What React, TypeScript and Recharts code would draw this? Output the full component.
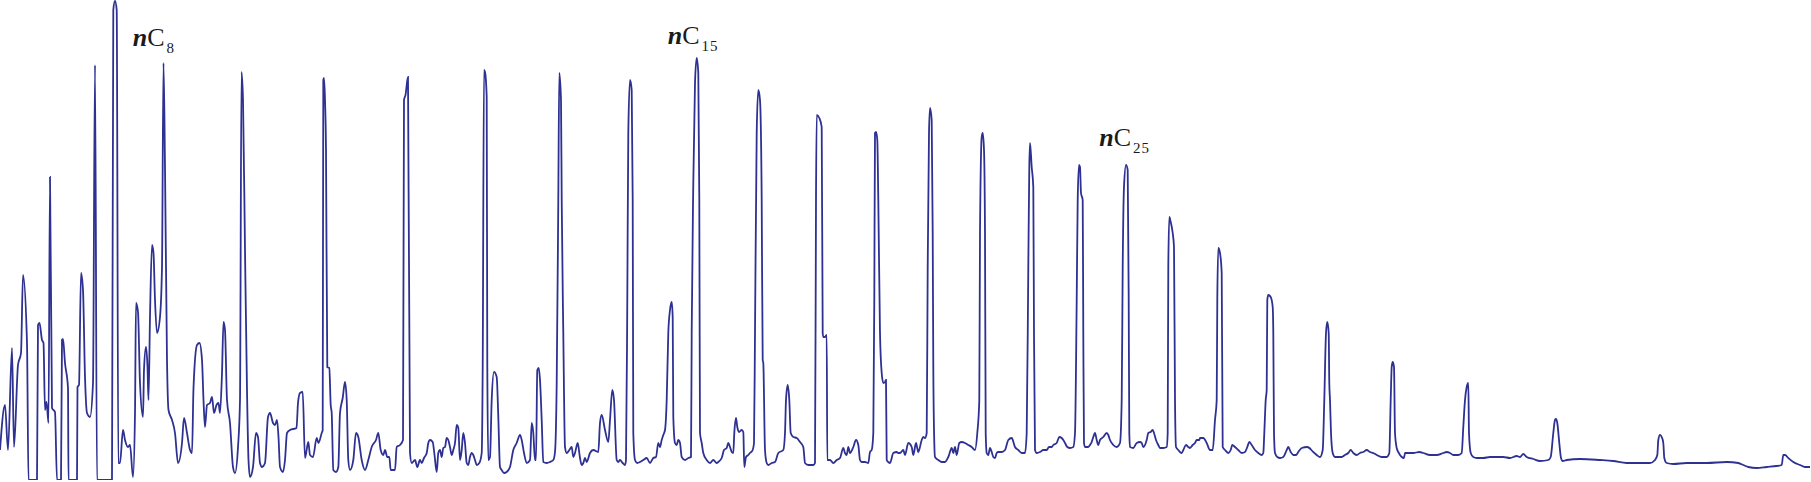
import React from "react";
import { LineChart, Line, XAxis, YAxis, ReferenceDot } from "recharts";

// Retention time (arbitrary units) and detector signal.
const lightEnd: [number, number][] = [
  [0, 30], [5, 75], [8, 30], [12, 132], [14, 33], [18, 115], [21, 127], [23, 205], [27, 137],
  [28.5, 0], [37, 0], [38, 155], [39.5, 157], [42, 140], [43.5, 137], [45, 70], [46.5, 78],
  [48.5, 57], [50, 303], [52, 72], [55, 68], [57, 0], [61, 0], [62, 140], [63, 141], [65, 117],
  [68, 92], [68.5, 0], [77, 0], [77.5, 93], [79, 95], [81, 207], [83, 190], [85, 103], [87, 67],
  [90, 63], [93, 97], [95, 415], [97, 0], [112, 0], [113.3, 470], [115, 479], [116.7, 470],
  [118.3, 17], [120, 17], [123, 50], [125, 40], [128, 33], [130, 35], [133, 3], [135, 67],
  [136, 177], [138, 168], [140, 97], [143, 63], [144, 110], [146, 133], [147.5, 113], [148.5, 80],
  [150, 163], [152, 235], [153.5, 227], [155, 180], [157, 147], [160, 163], [162, 213],
  [163.5, 417], [165, 313], [167, 120], [168.5, 70], [172, 60], [175, 47], [178, 17], [182, 37],
  [184, 62], [187, 47], [190, 30], [192, 27], [193.5, 92], [197, 135], [199.5, 137], [202, 120],
  [203.5, 80], [205, 53], [207, 75], [210, 77], [212, 83], [214, 67], [216.5, 75], [218.5, 77],
  [220, 67], [222, 107], [223.5, 158], [225, 150], [227, 80], [230, 57], [233, 13], [235, 7],
  [238, 33], [240, 80], [241.5, 408], [243, 380], [245, 230], [247, 90], [248.5, 20], [250, 3],
  [253, 13], [256, 47], [258, 43], [260, 17], [262, 13], [265, 17], [268, 63], [270, 67],
  [273, 57], [275, 55], [277, 60], [278.5, 43], [280, 13], [283, 8], [285, 20], [287, 47],
  [290, 50], [296.5, 52], [298, 77],
];

const c9toC13: [number, number][] = [
  [300, 87], [302.7, 88], [305, 22], [308.3, 38], [310, 25], [313, 23], [316.7, 42], [318.5, 37],
  [321.7, 47], [322.7, 50], [323.3, 400], [324, 402], [325, 380], [326, 330], [327.3, 113],
  [329.3, 112], [330.7, 75], [331.7, 67], [333.3, 10], [336, 8], [338.3, 13], [340, 67],
  [342.7, 82], [345, 98], [346.7, 80], [348.3, 20], [350, 10], [353.3, 20], [356, 47],
  [358.3, 43], [361.7, 20], [365, 10], [368.3, 20], [371.7, 33], [376, 40], [378.3, 47],
  [380.7, 30], [383.3, 25], [385, 30], [387.3, 23], [389.3, 23], [390.7, 10], [395, 10],
  [396.7, 33], [400, 35], [403, 40], [404, 380], [405.5, 385], [408, 403], [410, 27],
  [411.7, 17], [415, 20], [417.3, 13], [420, 20], [421.7, 17], [424, 22], [426.7, 27],
  [428.3, 37], [430, 40], [432.7, 38], [434.3, 27], [436.7, 8], [438.3, 27], [440, 30],
  [441.7, 23], [443.3, 32], [445, 33], [446.7, 42], [448.3, 40], [450, 33], [451.7, 25],
  [453.3, 30], [455, 37], [456.7, 55], [458.3, 52], [460, 20], [461.7, 30], [463.3, 47],
  [465, 37], [466.7, 17], [468.3, 15], [470, 23], [471.7, 27], [473.3, 25], [475, 20],
  [476.7, 15], [479.3, 17], [481.7, 27], [482.7, 113], [484, 410], [485, 408], [486.7, 383],
  [487.3, 113], [488.3, 20], [490, 23], [491.7, 80], [494, 108], [496.7, 103], [498.3, 63],
  [500, 13], [501.7, 10], [504, 7], [506.7, 8], [510, 13], [513.3, 30], [516.7, 37], [520, 45],
  [521.7, 40], [524, 27], [526.7, 17], [530, 20], [531.7, 57], [533.3, 47], [535, 20], [536, 20],
  [537.3, 110], [538.7, 112], [540, 100], [541.7, 60], [543.3, 18], [546.7, 17], [550, 18],
  [553.3, 20], [555, 28], [556.7, 97], [558.3, 280], [559.3, 407], [561, 380], [561.7, 280],
  [563.3, 147], [565, 33], [566.7, 27], [569.3, 30], [571.7, 33], [573.3, 23], [575, 27],
  [577.7, 37], [580, 22], [581.7, 15], [583.3, 17], [585, 22], [586.7, 18], [590, 27],
  [593.3, 30], [598.3, 28],
];

const c14toC19: [number, number][] = [
  [600, 57], [601.7, 65], [605, 50], [608.3, 38], [610, 60], [612.3, 90], [614, 80], [616.7, 20],
  [618.3, 18], [620, 20], [622.7, 17], [625, 15], [626, 20], [627.3, 180], [628.3, 347],
  [630, 400], [631.7, 390], [632.7, 280], [633.3, 47], [635, 20], [637.3, 17], [640, 18],
  [643.3, 20], [646.7, 22], [650, 17], [653.3, 22], [656, 23], [658.3, 37], [660, 33],
  [661.7, 40], [663.3, 45], [665, 50], [666.7, 80], [668.3, 147], [670, 170], [671.7, 178],
  [672.7, 163], [673.3, 63], [675, 37], [676.7, 35], [678.3, 40], [680, 37], [681.7, 23],
  [685, 20], [688.3, 22], [691, 23], [691.7, 147], [693.3, 297], [695, 397], [696.7, 422],
  [698.3, 407], [699.3, 280], [700, 47], [701.7, 37], [703.3, 27], [706.7, 20], [710, 17],
  [713.3, 20], [716.7, 17], [718.3, 18], [721.7, 22], [724, 30], [726.7, 32], [728.3, 37],
  [730, 33], [731.7, 28], [733.3, 27], [734.3, 47], [736, 62], [737.3, 53], [739, 48],
  [741.7, 50], [743.3, 48], [744.3, 13], [746, 23], [748.3, 25], [750, 27], [752.7, 30],
  [754, 37], [755, 147], [756.7, 347], [758.3, 390], [760, 380], [761.7, 280], [762.7, 120],
  [763.3, 117], [765, 30], [766.7, 17], [768.3, 15], [771.7, 17], [775, 18], [778.3, 27],
  [783.3, 30], [785, 47], [786, 80], [787.7, 95], [789.3, 80], [790.7, 47], [793.3, 43],
  [796.7, 42], [800, 38], [803.3, 33], [805, 17], [808.3, 15], [813.3, 15], [815, 17],
  [816, 280], [816.7, 365], [819.3, 362], [821.7, 353], [822.7, 147], [823.3, 143], [825, 143],
  [826.7, 145], [827.3, 20], [830, 20], [833.3, 17], [836.7, 20], [840, 22], [843.3, 32],
  [845, 27], [846.7, 25], [848.3, 33], [850, 27], [853.3, 33], [856, 40], [858.3, 35], [860, 20],
  [861.7, 18], [865, 18], [868.3, 17], [870, 28], [871.7, 30], [873.3, 47], [874.3, 180],
  [875, 347], [876, 348], [877.3, 340], [878.3, 280], [880, 147], [881.7, 107], [883.3, 97],
  [885, 98], [886, 100], [886.7, 20], [888.3, 18], [890, 17], [893.3, 27], [896.7, 28],
  [898.3, 27],
];

const c20toC26: [number, number][] = [
  [900, 27], [903.3, 30], [905, 25], [908.3, 37], [911.7, 33], [913.3, 25], [916, 37],
  [918.3, 28], [921.7, 40], [923.3, 43], [925, 42], [926.7, 47], [927.7, 213], [929, 347],
  [930, 372], [931.7, 360], [932.7, 247], [933.3, 113], [934.3, 37], [935, 23], [938.3, 20],
  [941.7, 18], [945, 18], [948.3, 23], [951.7, 32], [953.3, 27], [955, 33], [956.7, 25],
  [959.3, 37], [961.7, 38], [965, 37], [968.3, 35], [971.7, 33], [975, 30], [977.3, 47],
  [979.3, 80], [980, 247], [981.7, 343], [982.7, 347], [984, 330], [985, 247], [985.7, 47],
  [986.7, 27], [988.3, 25], [990, 32], [991.7, 28], [993.3, 23], [995, 22], [996.7, 27],
  [998.3, 28], [1001.7, 28], [1005, 30], [1008.3, 40], [1011.7, 42], [1015, 33], [1018.3, 30],
  [1021.7, 27], [1025, 27], [1026.7, 47], [1028.3, 213], [1029.3, 313], [1030, 337],
  [1031.7, 313], [1033.3, 293], [1034, 147], [1035, 30], [1036.7, 27], [1040, 28], [1043.3, 30],
  [1046.7, 30], [1049, 33], [1051.7, 33], [1053.3, 35], [1056.7, 37], [1059.3, 43], [1061.7, 42],
  [1063.3, 40], [1065, 37], [1067.3, 33], [1070, 32], [1073.3, 33], [1075, 47], [1076.7, 180],
  [1077.7, 280], [1079, 315], [1080, 313], [1081, 287], [1082.7, 280], [1083.3, 147],
  [1084, 37], [1085, 33], [1088.3, 33], [1090, 35], [1091.7, 38], [1093.3, 43], [1095, 47],
  [1096.7, 40], [1098.3, 35], [1100, 40], [1103.3, 43], [1106.7, 47], [1108.3, 45], [1110, 40],
  [1113.3, 35], [1116.7, 33], [1120, 37], [1121.7, 80], [1122.7, 213], [1124, 293], [1126, 315],
  [1127.7, 310], [1128.7, 180], [1129.3, 47], [1130, 33], [1133.3, 32], [1136.7, 37],
  [1140, 38], [1141.7, 37], [1143.3, 33], [1146.7, 40], [1148.3, 47], [1150.7, 48],
  [1152.7, 50], [1154, 47], [1156, 40], [1158.3, 35], [1160, 32], [1163.3, 32], [1166.7, 33],
  [1167.7, 47], [1168.3, 213], [1169.3, 263], [1170.7, 258], [1172.7, 247], [1174, 233],
  [1175, 80], [1176, 33], [1178.3, 30], [1181.7, 27], [1183.3, 30], [1186, 35], [1188.3, 33],
  [1190, 32], [1192.7, 35], [1195, 37], [1196.7, 40], [1199.3, 40],
];

const c27toC31: [number, number][] = [
  [1200, 42], [1203.3, 42], [1206.7, 37], [1210, 30], [1212.7, 30], [1215, 60], [1216.7, 80],
  [1217.3, 180], [1218.3, 232], [1220, 227], [1221.7, 207], [1222.7, 33], [1225, 30],
  [1228.3, 27], [1230.7, 30], [1232.3, 35], [1235, 33], [1238.3, 30], [1241.7, 27], [1245, 28],
  [1247.3, 33], [1249.3, 38], [1251.7, 35], [1255, 30], [1258.3, 27], [1261.7, 25], [1263.3, 27],
  [1264.3, 47], [1265.7, 80], [1266.7, 90], [1267.3, 180], [1268.3, 185], [1270.7, 183],
  [1272.7, 173], [1273.3, 147], [1274, 47], [1275, 27], [1277.3, 23], [1280, 22], [1283.3, 23],
  [1286.7, 30], [1288.3, 33], [1290.7, 28], [1293.3, 25], [1296, 25], [1298.3, 28],
  [1301.7, 32], [1307.3, 33], [1313.3, 28], [1316.7, 25], [1320, 23], [1322.7, 30],
  [1324.3, 80], [1326, 147], [1327.3, 158], [1328.7, 147], [1329.3, 97], [1330, 80],
  [1331, 47], [1332.7, 27], [1335, 23], [1338.3, 23], [1341.7, 23], [1345, 25], [1348.3, 27],
  [1350.7, 30], [1353.3, 27], [1356.7, 25], [1360, 27], [1363.3, 28], [1366.7, 30], [1370, 28],
  [1373.3, 27], [1376.7, 25], [1381.7, 23], [1386.7, 23], [1389.3, 27], [1390.7, 80],
  [1391.7, 113], [1392.7, 118], [1394, 113], [1395, 47], [1396.7, 32], [1398.3, 28], [1400, 25],
  [1401.7, 23], [1404, 22], [1405, 27], [1408.3, 27], [1413.3, 27], [1419.3, 28], [1423.3, 27],
  [1430, 25], [1436.7, 25], [1443.3, 27], [1446.7, 28], [1450, 27], [1453.3, 25], [1458.3, 25],
  [1461.7, 27], [1463.3, 53], [1465, 80], [1466.7, 93], [1468.3, 97], [1469, 47], [1470.7, 27],
  [1473.3, 23], [1476.7, 22], [1483.3, 22], [1490, 23], [1500, 23],
];

const heavyTail: [number, number][] = [
  [1503.3, 23], [1510, 22], [1516.7, 24], [1520, 23], [1523.3, 26], [1526.7, 23], [1533.3, 21],
  [1540, 19], [1548.3, 20], [1550.7, 23], [1553.3, 47], [1555, 60], [1556, 61], [1557.3, 57],
  [1559.3, 37], [1561, 22], [1562.7, 19], [1566.7, 20], [1580, 21], [1600, 20], [1613.3, 19],
  [1626.7, 17], [1640, 17], [1650, 17], [1655, 20], [1657.3, 25], [1658.3, 40], [1660, 45],
  [1661.7, 43], [1663.3, 37], [1664.3, 22], [1666.7, 17], [1673.3, 16], [1686.7, 17],
  [1706.7, 17], [1726.7, 18], [1738.3, 17], [1743.3, 15], [1748.3, 13], [1756.7, 12],
  [1766.7, 13], [1776.7, 14], [1781.7, 15], [1783.3, 25], [1785, 25], [1788.3, 22], [1793.3, 18],
  [1800, 15], [1805, 13], [1810, 13],
];

// Labelled n-alkanes: carbon number and label anchor (time, signal level) in data units
const labelledCarbons = [8, 15, 25];
const labelTimes = [132.7, 667.7, 1099.3];
const labelSignals = [434.3, 435.7, 334];

const data = [lightEnd, c9toC13, c14toC19, c20toC26, c27toC31, heavyTail]
  .flat()
  .map(([t, signal]) => ({ t, signal }));

const FONT = "'Liberation Serif', 'Times New Roman', Times, serif";

const PeakLabel = (props: any) => {
  const { cx, cy, carbon } = props;
  if (cx == null || cy == null) return null;
  return (
    <text x={cx} y={cy} fontFamily={FONT} fill="#1a1a1a">
      <tspan fontStyle="italic" fontWeight="bold" fontSize={26}>n</tspan>
      <tspan fontSize={26}>C</tspan>
      <tspan fontSize={15} dx={2} dy={7} letterSpacing={1}>{carbon}</tspan>
    </text>
  );
};

export default function App() {
  return (
    <div style={{ position: "absolute", left: 0, top: 0, width: 1811, height: 482, background: "#fff" }}>
      <LineChart width={1811} height={482} data={data} margin={{ top: 0, right: 0, bottom: 2, left: 0 }}>
        <XAxis dataKey="t" type="number" domain={[0, 1811]} hide />
        <YAxis type="number" domain={[0, 480]} hide allowDataOverflow />
        <Line
          type="monotone"
          dataKey="signal"
          stroke="#2e3192"
          strokeWidth={1.8}
          dot={false}
          activeDot={false}
          isAnimationActive={false}
        />
        {labelledCarbons.map((c, i) => (
          <ReferenceDot
            key={c}
            x={labelTimes[i]}
            y={labelSignals[i]}
            r={0}
            ifOverflow="visible"
            shape={(p: any) => <PeakLabel {...p} carbon={c} />}
          />
        ))}
      </LineChart>
    </div>
  );
}
